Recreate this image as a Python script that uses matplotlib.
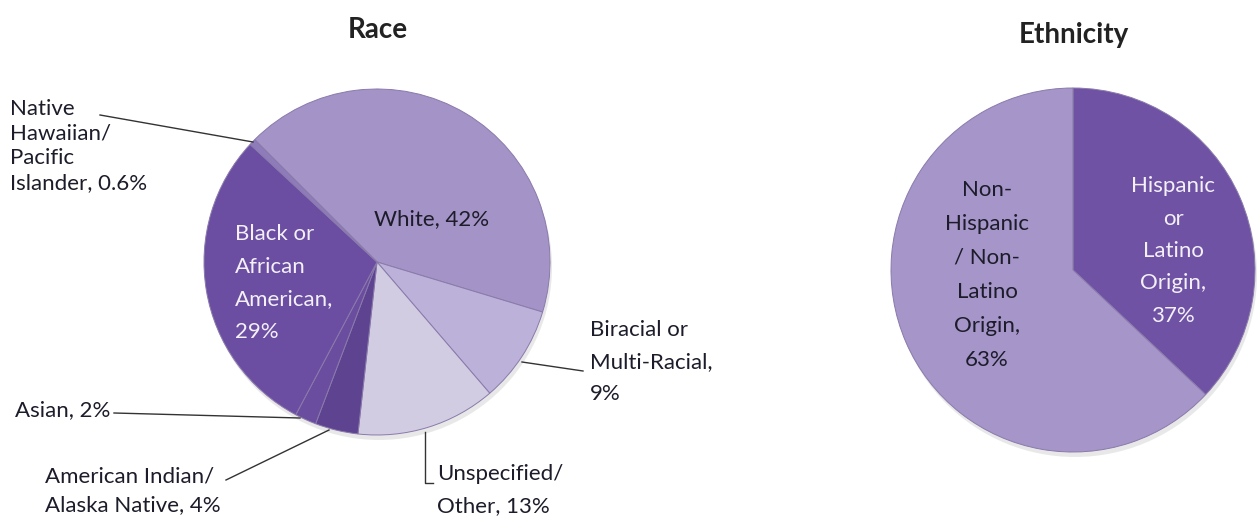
import matplotlib
matplotlib.use("Agg")
import matplotlib.pyplot as plt

plt.rcParams['font.family'] = ['Lato', 'DejaVu Sans']

W, H = 1257, 523

# race data, clockwise starting at the White slice
race_labels = ['White', 'Biracial or Multi-Racial', 'Unspecified/ Other',
               'American Indian/ Alaska Native', 'Asian',
               'Black or African American', 'Native Hawaiian/ Pacific Islander']
race_values = [42, 9, 13, 4, 2, 29, 0.6]
race_colors = ['#a393c6', '#bcb1d9', '#d2cce3', '#5d4390', '#6a4d9e', '#6b4ea2', '#8e7bb9']

eth_labels = ['Hispanic or Latino Origin', 'Non-Hispanic / Non-Latino Origin']
eth_values = [37, 63]
eth_colors = ['#6f52a4', '#a595c8']

fig = plt.figure(figsize=(W / 100, H / 100), dpi=100)
ax = fig.add_axes([0, 0, 1, 1])


def py(y):
    # pixel row (from top) to data y
    return H - y


# soft shadows under the pies
for cx, cy, r in [(377, 262, 173), (1073, 270, 182)]:
    ax.add_patch(plt.Circle((cx + 2, py(cy + 5)), r, color='#dadada', alpha=0.6, lw=0))

ax.pie(race_values, colors=race_colors, startangle=135, counterclock=False,
       center=(377, py(262)), radius=173, frame=True,
       wedgeprops=dict(edgecolor='#8a7aab', linewidth=0.7))
ax.pie(eth_values, colors=eth_colors, startangle=90, counterclock=False,
       center=(1073, py(270)), radius=182, frame=True,
       wedgeprops=dict(edgecolor='#8a7aab', linewidth=0.7))
ax.set_xlim(0, W)
ax.set_ylim(0, H)
ax.set_aspect('equal')
ax.axis('off')

fs = 16
dark = '#1c1c2a'
light = '#f3f0f8'
lc = '#333333'

ax.text(378, py(30), 'Race', fontsize=20, fontweight='bold', ha='center', va='center', color='#222222')
ax.text(1074, py(35), 'Ethnicity', fontsize=20, fontweight='bold', ha='center', va='center', color='#222222')

# race labels
ax.text(432, py(219), 'White, 42%', fontsize=fs, ha='center', va='center', color=dark)
ax.text(235, py(283), 'Black or\nAfrican\nAmerican,\n29%', fontsize=fs, ha='left', va='center',
        color=light, linespacing=1.79)
ax.text(10, py(146), 'Native\nHawaiian/\nPacific\nIslander, 0.6%', fontsize=fs, ha='left', va='center',
        color=dark, linespacing=1.29)
ax.plot([100, 253], [py(115), py(142)], color=lc, lw=1)

ax.text(590, py(362), 'Biracial or\nMulti-Racial,\n9%', fontsize=fs, ha='left', va='center',
        color=dark, linespacing=1.77)
ax.plot([522, 583], [py(362), py(371)], color=lc, lw=1)

ax.text(437, py(490), 'Unspecified/\nOther, 13%', fontsize=fs, ha='left', va='center',
        color=dark, linespacing=1.7)
ax.plot([425, 425, 433], [py(432), py(483), py(483)], color=lc, lw=1)

ax.text(15, py(410), 'Asian, 2%', fontsize=fs, ha='left', va='center', color=dark)
ax.plot([114, 300], [py(413), py(418)], color=lc, lw=1)

ax.text(45, py(491), 'American Indian/\nAlaska Native, 4%', fontsize=fs, ha='left', va='center',
        color=dark, linespacing=1.52)
ax.plot([226, 329], [py(480), py(430)], color=lc, lw=1)

# ethnicity labels
ax.text(987, py(275), 'Non-\nHispanic\n/ Non-\nLatino\nOrigin,\n63%', fontsize=fs, ha='center',
        va='center', color=dark, linespacing=1.88)
ax.text(1173, py(251), 'Hispanic\nor\nLatino\nOrigin,\n37%', fontsize=fs, ha='center',
        va='center', color=light, linespacing=1.77)

fig.savefig('out.png', dpi=100)
